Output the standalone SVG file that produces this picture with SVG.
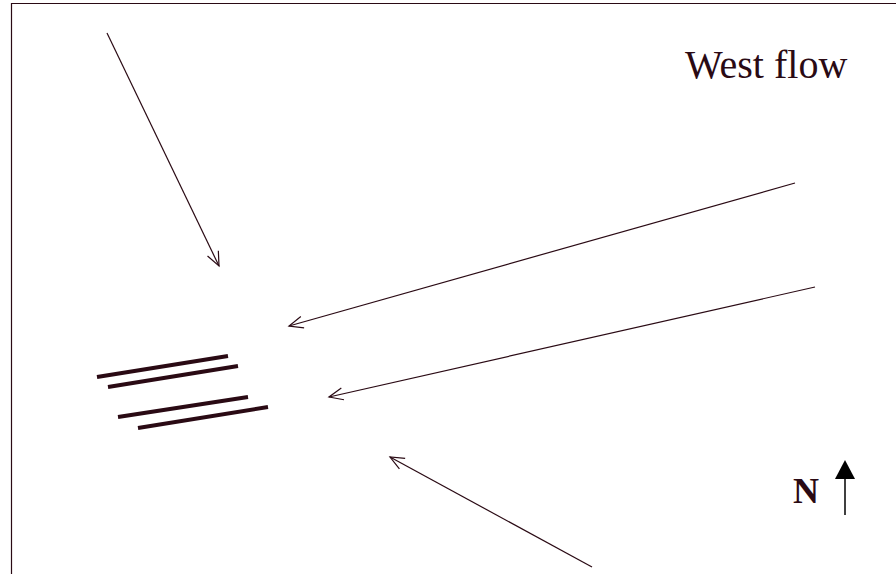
<svg xmlns="http://www.w3.org/2000/svg" width="896" height="574" viewBox="0 0 896 574">
<style>
.ln{stroke:#2a0a14;stroke-width:1.2;fill:none}
.thick{stroke:#2a0a14;stroke-width:4;stroke-linecap:butt}
.lbl{font-family:"Liberation Serif","Times New Roman",serif;fill:#2a0a14}
</style>
<defs>
<marker id="open" viewBox="-16 -8 18 16" refX="0" refY="0" markerWidth="18" markerHeight="16" markerUnits="userSpaceOnUse" orient="auto">
<path d="M-14,-6 L0,0 L-14,6" fill="none" stroke="#2a0a14" stroke-width="1.2"/>
</marker>
</defs>
<rect x="0" y="0" width="896" height="574" fill="#ffffff"/>
<path d="M11.5,574 V3.5 H896" fill="none" stroke="#2a0a14" stroke-width="1.2"/>
<g id="connectors">
<line class="ln" x1="107" y1="33" x2="219" y2="266" marker-end="url(#open)"/>
<line class="ln" x1="795" y1="183" x2="289" y2="326" marker-end="url(#open)"/>
<line class="ln" x1="815" y1="287" x2="329" y2="397" marker-end="url(#open)"/>
<line class="ln" x1="592" y1="567" x2="390" y2="457" marker-end="url(#open)"/>
</g>
<g id="runways">
<line class="thick" x1="97" y1="377" x2="228" y2="356"/>
<line class="thick" x1="108" y1="387" x2="238" y2="366"/>
<line class="thick" x1="118" y1="417" x2="248" y2="397"/>
<line class="thick" x1="138" y1="428" x2="268" y2="407"/>
</g>
<g id="title">
<text class="lbl" x="685" y="78" font-size="40">West flow</text>
</g>
<g id="north">
<text class="lbl" x="793" y="503" font-size="36" font-weight="bold" fill="#000">N</text>
<line x1="845" y1="476" x2="845" y2="515" stroke="#000" stroke-width="1.5"/>
<polygon points="845,460 835,479 855,479" fill="#000"/>
</g>
</svg>
